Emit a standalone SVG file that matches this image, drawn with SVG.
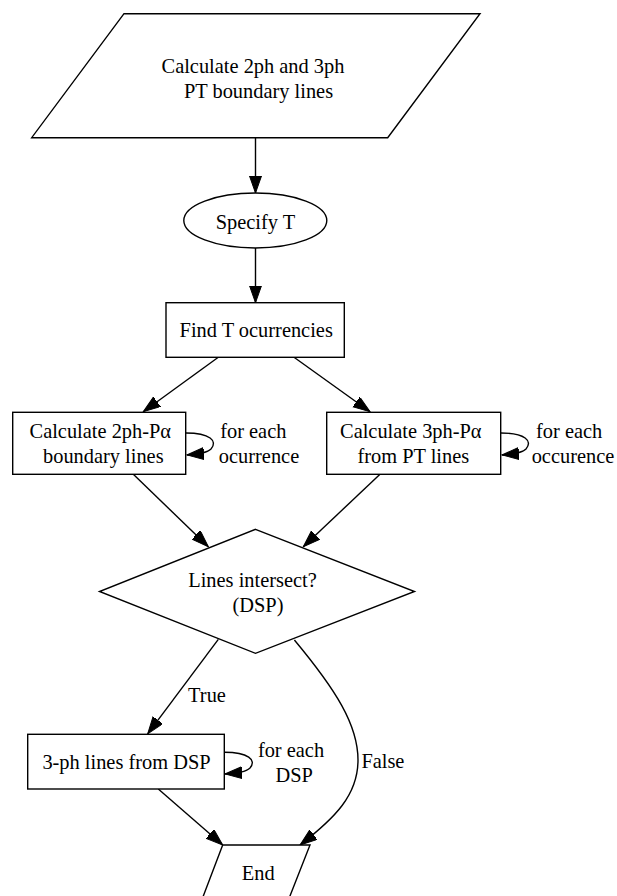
<svg xmlns="http://www.w3.org/2000/svg" width="617" height="896" viewBox="0 0 617 896">
<style>
.n{fill:#fff;stroke:#000;stroke-width:1.4}
.t{font-family:'Liberation Serif',Tinos,'Times New Roman',Times,'DejaVu Serif',serif;font-size:20.4px;fill:#000;text-anchor:middle}
.e{fill:none;stroke:#000;stroke-width:1.4}
</style>
<defs>
<marker id="ah" markerUnits="userSpaceOnUse" markerWidth="20" markerHeight="14" refX="17" refY="6" orient="auto">
<path d="M0,0 L17,6 L0,12 z" fill="#000" stroke="#000" stroke-width="1"/>
</marker>
</defs>
<rect width="617" height="896" fill="#fff"/>
<g id="connectors">
<line class="e" x1="255.5" y1="138" x2="255.5" y2="193" marker-end="url(#ah)"/>
<line class="e" x1="255.5" y1="248" x2="255.5" y2="302.7" marker-end="url(#ah)"/>
<line class="e" x1="218.3" y1="357.3" x2="143.3" y2="411.7" marker-end="url(#ah)"/>
<line class="e" x1="294" y1="357.3" x2="370" y2="411.7" marker-end="url(#ah)"/>
<line class="e" x1="133.3" y1="474.3" x2="208.3" y2="546.7" marker-end="url(#ah)"/>
<line class="e" x1="380" y1="474.3" x2="303.3" y2="546.7" marker-end="url(#ah)"/>
<line class="e" x1="218.3" y1="639.3" x2="147.7" y2="733.8" marker-end="url(#ah)"/>
<line class="e" x1="158.3" y1="789" x2="222.7" y2="845" marker-end="url(#ah)"/>
<path class="e" d="M294.4,640 C336,690 358,725 358,760 C358,795 335,818 300,845" marker-end="url(#ah)"/>
<path class="e" d="M186,433 C210,433 218,441 211,449 C207,453 199,454 187,455" marker-end="url(#ah)"/>
<path class="e" d="M501,433 C525,433 533,441 526,449 C522,453 514,454 502,455" marker-end="url(#ah)"/>
<path class="e" d="M224.5,752.3 C248,752.3 257,760 250,768 C246,772 238,773 225,774" marker-end="url(#ah)"/>
<text class="t" x="253.3" y="438.3">for each</text>
<text class="t" x="259" y="463.3">ocurrence</text>
<text class="t" x="569.2" y="438.3">for each</text>
<text class="t" x="573" y="463.3">occurence</text>
<text class="t" x="207" y="701.7">True</text>
<text class="t" x="291" y="756.7">for each</text>
<text class="t" x="294.2" y="781.7">DSP</text>
<text class="t" x="382.9" y="768.3">False</text>
</g>
<g id="calc_pt">
<polygon class="n" points="124,13.7 480,13.7 387.7,137.7 31.7,137.7"/>
<text class="t" x="253" y="72.5">Calculate 2ph and 3ph</text>
<text class="t" x="258.5" y="97.5">PT boundary lines</text>
</g>
<g id="specify_t">
<ellipse class="n" cx="255.3" cy="220.5" rx="71.5" ry="27.5"/>
<text class="t" x="255.4" y="229">Specify T</text>
</g>
<g id="find_t">
<rect class="n" x="166" y="302.7" width="178.3" height="54.6"/>
<text class="t" x="256.2" y="337.3">Find T ocurrencies</text>
</g>
<g id="calc_2ph">
<rect class="n" x="12.7" y="412.3" width="173" height="62"/>
<text class="t" x="100.3" y="438.3">Calculate 2ph-Pα</text>
<text class="t" x="103.3" y="463.3">boundary lines</text>
</g>
<g id="calc_3ph">
<rect class="n" x="326.7" y="412.3" width="174" height="62"/>
<text class="t" x="410.8" y="438.3">Calculate 3ph-Pα</text>
<text class="t" x="413.3" y="463.3">from PT lines</text>
</g>
<g id="intersect">
<polygon class="n" points="255.5,529.3 414.5,591.5 255.5,653.3 99.5,591.5"/>
<text class="t" x="252.5" y="587.3">Lines intersect?</text>
<text class="t" x="258" y="611.7">(DSP)</text>
</g>
<g id="lines_dsp">
<rect class="n" x="27.7" y="734.3" width="196.6" height="54.7"/>
<text class="t" x="126.5" y="769.3">3-ph lines from DSP</text>
</g>
<g id="end">
<polygon class="n" points="222.7,845 310,845 288.4,900 201.8,900"/>
<text class="t" x="258.3" y="880">End</text>
</g>
</svg>
